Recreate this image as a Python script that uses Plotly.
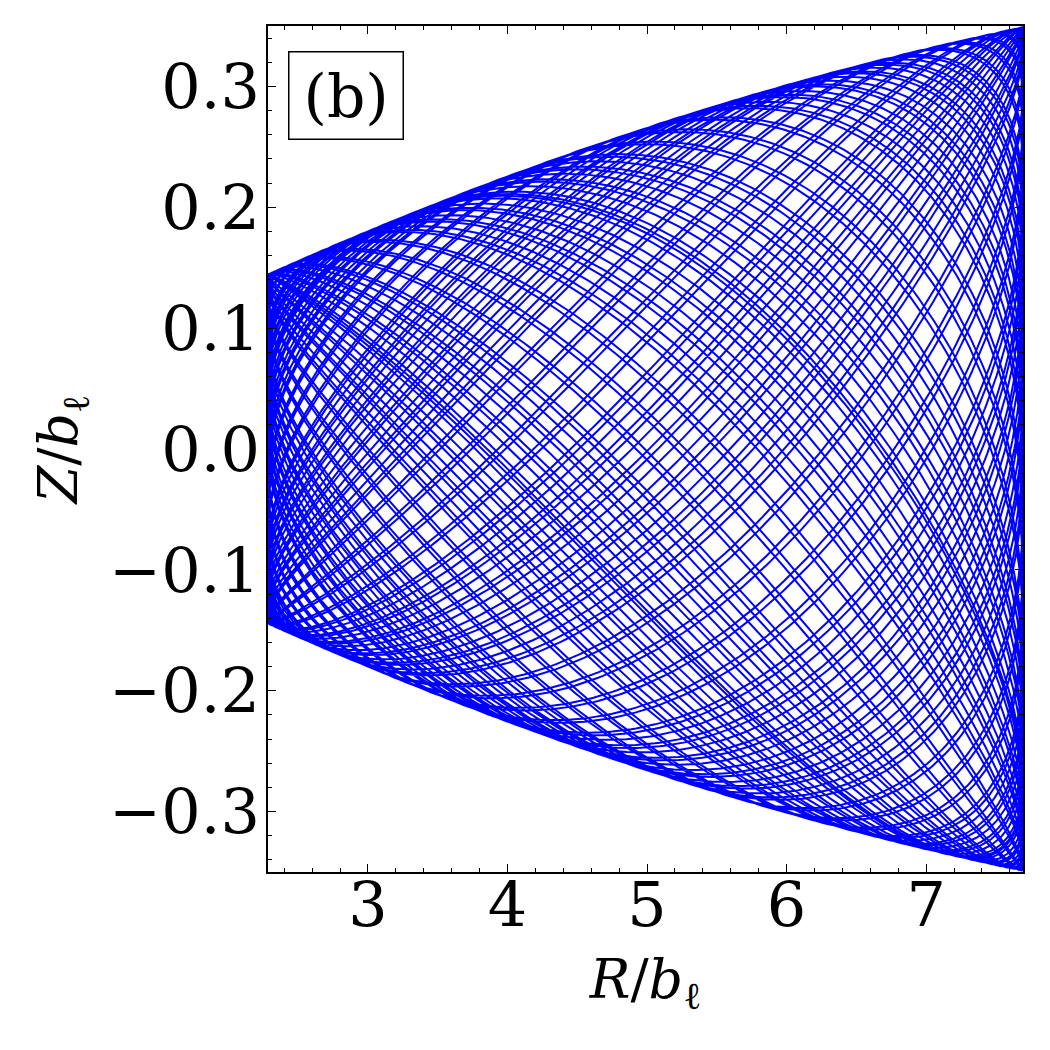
import numpy as np
import plotly.graph_objects as go

# --- values -----------------------------------------------------------------
# radial turning points of the orbit (R / b_l)
R_TURN = [2.284, 7.694]
# upper envelope of the orbit, read at several radii (Z / b_l)
ENV_R = [2.284, 3.0, 3.95, 4.12, 5.0, 6.1, 7.0, 7.694]
ENV_Z = [0.144, 0.180, 0.224, 0.232, 0.265, 0.304, 0.330, 0.350]
# orbit integration settings
N_PERIODS = 66            # radial periods followed
K_MEAN = 1.2 + 0.26 / 66  # mean vertical / radial frequency ratio
FREQ_SLOPE = 0.3          # vertical frequency falls off with radius
PTS_PER_PERIOD = 500

X_TICKS = [3, 4, 5, 6, 7]
Y_TICKS = [-0.3, -0.2, -0.1, 0.0, 0.1, 0.2, 0.3]
Y_TICK_TEXT = ["\u22120.3", "\u22120.2", "\u22120.1", "0.0", "0.1", "0.2", "0.3"]

# --- trajectory in the meridional plane --------------------------------------
Rc = 0.5 * (R_TURN[0] + R_TURN[1])
a = 0.5 * (R_TURN[1] - R_TURN[0])
theta = np.linspace(0, 2 * np.pi * N_PERIODS, N_PERIODS * PTS_PER_PERIOD + 1)
R = Rc - a * np.cos(theta)
g = (R / Rc) ** (-FREQ_SLOPE)
g1 = g[: PTS_PER_PERIOD].mean()
k = K_MEAN * g / g1
dth = np.diff(theta, prepend=0.0)
psi = np.cumsum(k * dth) + 0.3
env_fit = np.polyfit(ENV_R, ENV_Z, 2)      # smooth curve through the read envelope
A = np.polyval(env_fit, R)
Z = A * np.sin(psi)

FONT = "DejaVu Serif"

fig = go.Figure()
fig.add_trace(go.Scatter(x=R, y=Z, mode="lines",
                         line=dict(color="#0000ff", width=2.0),
                         hoverinfo="skip", showlegend=False))

axis_common = dict(
    showline=True, linecolor="black", linewidth=1.5, mirror="allticks",
    ticks="inside", ticklen=8, tickwidth=1.2, tickcolor="black",
    showgrid=False, zeroline=False,
    tickfont=dict(family=FONT, size=62, color="black"),
)

fig.update_xaxes(
    range=[R_TURN[0], R_TURN[1]], tickvals=X_TICKS,
    minor=dict(ticks="inside", ticklen=4, dtick=0.2, tick0=0, tickcolor="black", showgrid=False),
    ticklabelstandoff=-22,
    title=dict(text="<i>R</i>/<i>b</i><sub>\u2113</sub>",
               font=dict(family=FONT, size=54, color="black"), standoff=20),
    **axis_common)
fig.update_yaxes(
    range=[-0.35, 0.35], tickvals=Y_TICKS, ticktext=Y_TICK_TEXT,
    minor=dict(ticks="inside", ticklen=4, dtick=0.02, tick0=0, tickcolor="black", showgrid=False),
    ticklabelstandoff=-6,
    title=dict(text="<i>Z</i>/<i>b</i><sub>\u2113</sub>",
               font=dict(family=FONT, size=54, color="black"), standoff=14),
    **axis_common)

fig.add_annotation(
    xref="paper", yref="paper", x=0.026, y=0.970, xanchor="left", yanchor="top",
    text="\u200a(b)\u200a", showarrow=False,
    font=dict(family=FONT, size=60, color="black"),
    bordercolor="black", borderwidth=1.5, borderpad=8, bgcolor="white")

fig.update_layout(
    width=1050, height=1050,
    margin=dict(l=268, r=27, t=26, b=178),
    plot_bgcolor="white", paper_bgcolor="white",
)

fig.write_html("out.html")
